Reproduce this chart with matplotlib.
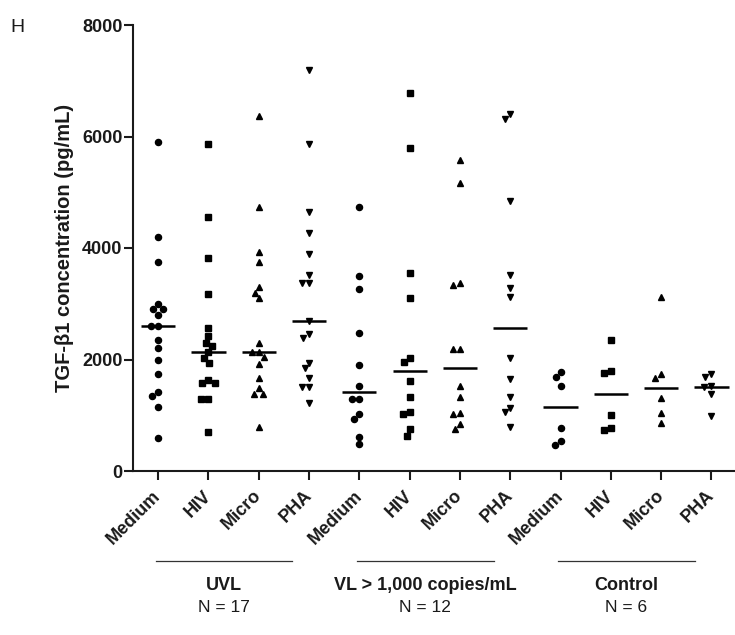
import numpy as np
import matplotlib
matplotlib.use('Agg')
import matplotlib.pyplot as plt
from matplotlib.transforms import blended_transform_factory

plt.rcParams['font.family'] = ['Liberation Sans', 'DejaVu Sans']

conditions = ['Medium', 'HIV', 'Micro', 'PHA']
groups = ['UVL', 'VL > 1,000 copies/mL', 'Control']
group_n = ['N = 17', 'N = 12', 'N = 6']
markers = ['o', 's', '^', 'v']
marker_sizes = [4.4, 4.0, 4.9, 4.9]
yticks = [0, 2000, 4000, 6000, 8000]

uvl_medium = [5900, 4200, 3755, 2996, 2900, 2900, 2799, 2596, 2596, 2350, 2212, 1991, 1740, 1423, 1351, 1142, 598]
uvl_hiv = [5866, 4551, 3821, 3175, 2560, 2422, 2302, 2250, 2140, 2033, 1932, 1633, 1573, 1573, 1286, 1286, 705]
uvl_micro = [6369, 4742, 3923, 3744, 3307, 3199, 3098, 2302, 2135, 2135, 2040, 1914, 1674, 1484, 1381, 1381, 784]
uvl_pha = [7194, 5866, 4641, 4276, 3887, 3516, 3367, 3367, 2697, 2458, 2392, 1943, 1842, 1675, 1501, 1501, 1214]
vl_medium = [4742, 3498, 3259, 2470, 1902, 1531, 1292, 1292, 1023, 933, 616, 478]
vl_hiv = [6787, 5800, 3558, 3109, 2033, 1950, 1620, 1322, 1064, 1023, 748, 628]
vl_micro = [5579, 5161, 3378, 3337, 2183, 2183, 1525, 1322, 1046, 1023, 838, 748]
vl_pha = [6405, 6315, 4844, 3516, 3289, 3116, 2021, 1650, 1333, 1136, 1053, 795]
ctl_medium = [1782, 1681, 1531, 765, 538, 466]
ctl_hiv = [2350, 1794, 1752, 1005, 765, 736]
ctl_micro = [3127, 1740, 1663, 1304, 1035, 867]
ctl_pha = [1740, 1681, 1525, 1500, 1381, 987]

series = [uvl_medium, uvl_hiv, uvl_micro, uvl_pha,
          vl_medium, vl_hiv, vl_micro, vl_pha,
          ctl_medium, ctl_hiv, ctl_micro, ctl_pha]

W, H = 735, 635
fig = plt.figure(figsize=(W / 100, H / 100), dpi=100)
ax = fig.add_axes([133 / W, 164 / H, 603.6 / W, 446 / H])
ax.set_xlim(-0.5, 11.5)
ax.set_ylim(0, 8000)


def swarm(xc, vals, diam_px=7.2):
    vals = np.asarray(vals, dtype=float)
    pts = ax.transData.transform(np.column_stack([np.full(len(vals), xc), vals]))
    order = np.argsort(-vals, kind='stable')
    placed = []
    xs = np.zeros(len(vals))
    for i in order:
        x0, y0 = pts[i]
        forb = []
        for (px, py) in placed:
            dy = abs(py - y0)
            if dy < diam_px:
                half = np.sqrt(diam_px ** 2 - dy ** 2)
                forb.append((px - x0 - half, px - x0 + half))
        cands = [0.0] + [b for a, b in forb] + [a for a, b in forb]
        cands = sorted(cands, key=lambda c: (round(abs(c), 6), c))
        off = 0.0
        for c in cands:
            if all(not (a + 1e-6 < c < b - 1e-6) for a, b in forb):
                off = c
                break
        placed.append((x0 + off, y0))
        xs[i] = x0 + off
    back = ax.transData.inverted().transform(np.column_stack([xs, pts[:, 1]]))
    return back[:, 0]


for i, vals in enumerate(series):
    m = i % 4
    xs = swarm(i, vals)
    ax.plot(xs, vals, linestyle='none', marker=markers[m], ms=marker_sizes[m],
            color='black', mec='black', clip_on=False, zorder=3)
    med = np.median(vals)
    ax.plot([i - 0.34, i + 0.34], [med, med], color='black', lw=1.8, zorder=2,
            solid_capstyle='butt')

for s in ['top', 'right']:
    ax.spines[s].set_visible(False)
for s in ['left', 'bottom']:
    ax.spines[s].set_linewidth(1.5)
    ax.spines[s].set_color('#1a1a1a')

ax.set_yticks(yticks)
ax.set_yticklabels([str(v) for v in yticks], fontsize=13, fontweight='bold', color='#1a1a1a')
ax.tick_params(axis='y', direction='out', length=6.5, width=1.5, pad=1, color='#1a1a1a')

ax.set_xticks(range(12))
ax.set_xticklabels(conditions * 3, fontsize=13, fontweight='bold', color='#1a1a1a',
                   rotation=45, ha='right', va='center', rotation_mode='anchor')
ax.tick_params(axis='x', direction='out', length=6.5, width=1.5, pad=9.5, color='#1a1a1a')

ax.set_ylabel('TGF-\u03b21 concentration (pg/mL)', fontsize=14.5, fontweight='bold',
              color='#1a1a1a', labelpad=6)

tr = blended_transform_factory(ax.transData, fig.transFigure)
for g in range(3):
    x0 = g * 4 - 0.05
    x1 = g * 4 + 2.67
    ax.plot([x0, x1], [(H - 561) / H] * 2, color='#333333', lw=0.9, transform=tr, clip_on=False)
    xc = (x0 + x1) / 2
    ax.text(xc, (H - 585) / H, groups[g], transform=tr, ha='center', va='center',
            fontsize=13, fontweight='bold', color='#1a1a1a')
    ax.text(xc, (H - 608) / H, group_n[g], transform=tr, ha='center', va='center',
            fontsize=12.5, color='#1a1a1a')

fig.text(10 / W, (H - 27) / H, 'H', fontsize=14, ha='left', va='center', color='#1a1a1a')

fig.savefig('out.png', dpi=100)
